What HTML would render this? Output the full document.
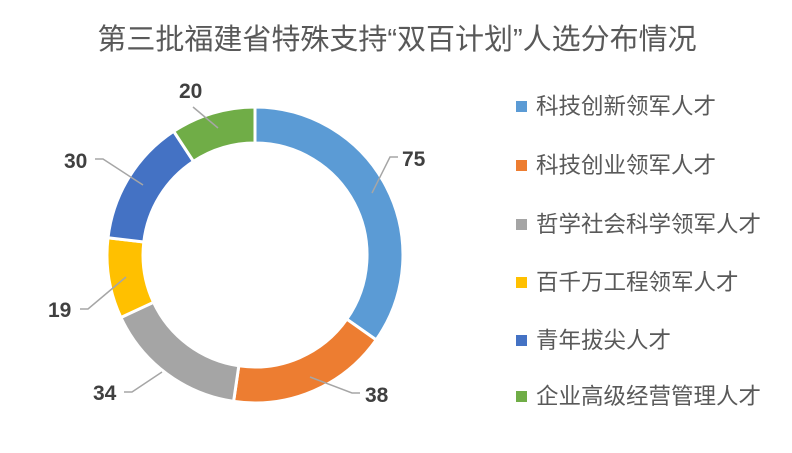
<!DOCTYPE html>
<html><head><meta charset="utf-8"><style>
html,body{margin:0;padding:0;background:#fff;width:792px;height:453px;overflow:hidden}
svg text{font-family:"Liberation Sans","Noto Sans CJK SC",sans-serif}
</style></head><body>
<svg width="792" height="453" viewBox="0 0 792 453" xmlns="http://www.w3.org/2000/svg">
<text x="397" y="49" text-anchor="middle" font-size="29" fill="#595959">第三批福建省特殊支持“双百计划”人选分布情况</text>
<g stroke="#fff" stroke-width="3" stroke-linejoin="miter">
<path d="M255,107 A148,148 0 0 1 376.2,339.9 L346.8,319.2 A112,112 0 0 0 255,143 Z" fill="#5B9BD5"/>
<path d="M376.2,339.9 A148,148 0 0 1 233.6,401.4 L238.8,365.8 A112,112 0 0 0 346.8,319.2 Z" fill="#ED7D31"/>
<path d="M233.6,401.4 A148,148 0 0 1 120.9,317.5 L153.5,302.3 A112,112 0 0 0 238.8,365.8 Z" fill="#A5A5A5"/>
<path d="M120.9,317.5 A148,148 0 0 1 108.0,237.8 L143.8,242.0 A112,112 0 0 0 153.5,302.3 Z" fill="#FFC000"/>
<path d="M108.0,237.8 A148,148 0 0 1 173.7,131.3 L193.5,161.4 A112,112 0 0 0 143.8,242.0 Z" fill="#4472C4"/>
<path d="M173.7,131.3 A148,148 0 0 1 255,107 L255,143 A112,112 0 0 0 193.5,161.4 Z" fill="#70AD47"/>
</g>
<g stroke="#a6a6a6" stroke-width="1.5" fill="none">
<polyline points="372,193 390,157 398,157"/>
<polyline points="310,377 352,393 360,393"/>
<polyline points="162,372 132,392 124,392"/>
<polyline points="126,277 88,309 80,309"/>
<polyline points="143,185 103,159 95,159"/>
<polyline points="218,128 193,107"/>
</g>
<g font-size="21" font-weight="bold" fill="#404040">
<text x="402" y="166">75</text>
<text x="365" y="402">38</text>
<text x="93" y="400">34</text>
<text x="48" y="317">19</text>
<text x="64" y="168">30</text>
<text x="179" y="98">20</text>
</g>
<g font-size="22.5" fill="#595959">
<rect x="516" y="101" width="11" height="11" fill="#5B9BD5"/><text x="536" y="114">科技创新领军人才</text>
<rect x="516" y="160" width="11" height="11" fill="#ED7D31"/><text x="536" y="173">科技创业领军人才</text>
<rect x="516" y="219" width="11" height="11" fill="#A5A5A5"/><text x="536" y="232">哲学社会科学领军人才</text>
<rect x="516" y="277" width="11" height="11" fill="#FFC000"/><text x="536" y="290">百千万工程领军人才</text>
<rect x="516" y="335" width="11" height="11" fill="#4472C4"/><text x="536" y="348">青年拔尖人才</text>
<rect x="516" y="391" width="11" height="11" fill="#70AD47"/><text x="536" y="404">企业高级经营管理人才</text>
</g>
</svg>
</body></html>
